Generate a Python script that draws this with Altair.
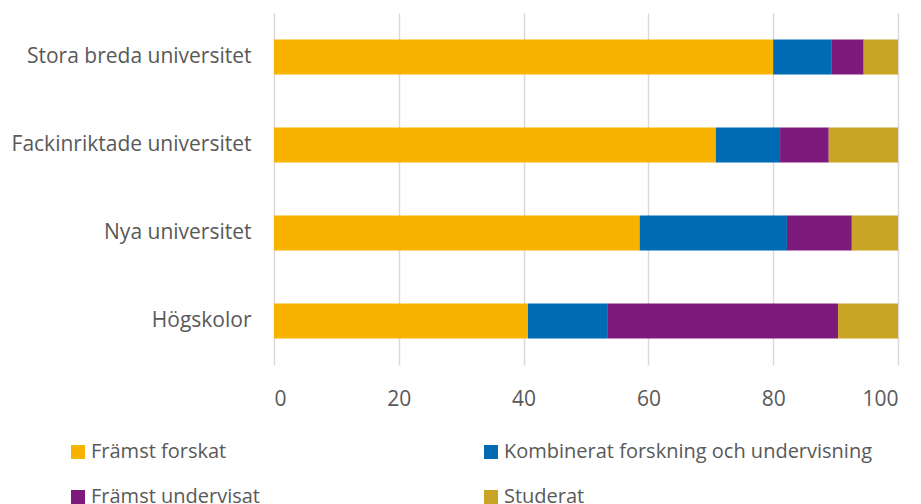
import altair as alt
import pandas as pd

categories = ["Stora breda universitet", "Fackinriktade universitet", "Nya universitet", "Högskolor"]
series = ["Främst forskat", "Kombinerat forskning och undervisning", "Främst undervisat", "Studerat"]
colors = ["#F8B300", "#006AB2", "#7E1A7C", "#C9A526"]

framst_forskat = [80.0, 70.8, 58.6, 40.7]
kombinerat = [9.3, 10.3, 23.6, 12.7]
framst_undervisat = [5.2, 7.8, 10.4, 37.0]
studerat = [5.5, 11.1, 7.4, 9.6]

x_ticks = [0, 20, 40, 60, 80, 100]

vals = [framst_forskat, kombinerat, framst_undervisat, studerat]
rows = []
for si, s in enumerate(series):
    for ci, c in enumerate(categories):
        rows.append({"category": c, "series": s, "value": vals[si][ci], "order": si})
df = pd.DataFrame(rows)

FONT = "Open Sans"
TXT = "#595959"

chart = alt.Chart(df).mark_bar().encode(
    x=alt.X("value:Q", stack="zero",
            scale=alt.Scale(domain=[0, 100], nice=False),
            axis=alt.Axis(values=x_ticks, title=None, grid=True, gridColor="#d9d9d9",
                          gridWidth=1.5, domain=False, ticks=False, labelFontSize=21,
                          labelColor=TXT, labelFont=FONT, labelPadding=23)),
    y=alt.Y("category:N", sort=categories,
            scale=alt.Scale(paddingInner=0.6, paddingOuter=0.3),
            axis=alt.Axis(title=None, domain=False, ticks=False, labelPadding=23,
                          labelFontSize=21, labelColor=TXT, labelFont=FONT, labelLimit=0)),
    color=alt.Color("series:N", sort=series,
                    scale=alt.Scale(domain=series, range=colors),
                    legend=alt.Legend(title=None, orient="none", legendX=-206, legendY=429,
                                      columns=2, direction="horizontal",
                                      symbolType="square", symbolSize=196, symbolStrokeWidth=0,
                                      symbolOpacity=1,
                                      labelFontSize=20, labelColor=TXT, labelFont=FONT,
                                      labelLimit=0, labelOffset=3,
                                      columnPadding=221, rowPadding=25)),
    order=alt.Order("order:Q"),
).properties(
    width=624, height=352,
    autosize="none",
    padding={"left": 266, "top": 5, "right": 13, "bottom": 140},
).configure_view(stroke=None)

chart.save("out.html", embed_options={"renderer": "svg", "actions": False})
